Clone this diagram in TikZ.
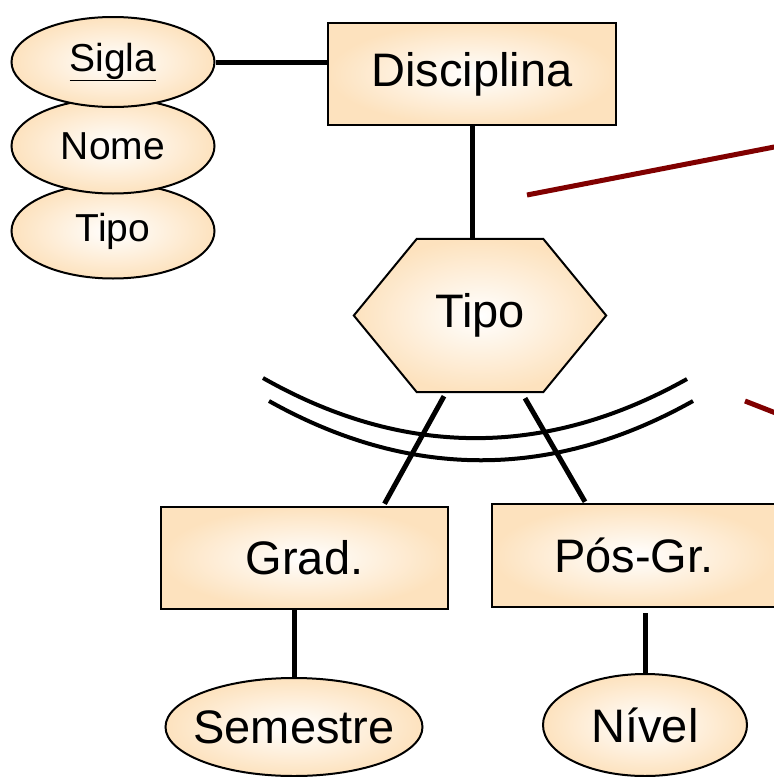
\documentclass[tikz,border=0pt]{standalone}
\usepackage{fontspec}
\setmainfont{Liberation Sans}
\usetikzlibrary{shapes.geometric, positioning}
\usetikzlibrary{calc,backgrounds}
\definecolor{peach}{RGB}{253,226,190}
\definecolor{darkred}{RGB}{128,0,0}

\begin{document}
\begin{tikzpicture}
[   x=1pt,y=-1pt,
    enode/.style={draw=black,line width=2.5pt,shade,inner color=white,outer color=peach,minimum width=#1,minimum height=102pt,inner sep=0pt,font=\fontsize{47}{56}\selectfont},
    anode/.style={draw=black,line width=2pt,ellipse,shade,inner color=white,outer color=peach,minimum width=#1,inner sep=0pt,font=\fontsize{47}{56}\selectfont},
]
\tikzset{link/.style={draw,line width=5pt},
         arcline/.style={draw,line width=4pt},
         redline/.style={draw=darkred,line width=5pt}}
\path[use as bounding box,clip] (0,0) rectangle (774,777);

\node[enode=288pt] (disc) at (472,74) {Disciplina};
\foreach \name/\txt/\y/\h in {tipoa/Tipo/231/95, nome/Nome/146/95, sigla/\underline{Sigla}/62/90}
{
	\node[anode=203pt,minimum height=\h pt,font=\fontsize{39}{47}\selectfont] (\name) at (113,\y) {\txt};
}
\node[minimum width=252pt,minimum height=153pt,inner sep=0pt,font=\fontsize{47}{56}\selectfont] (tipo) at (480,315.5) {Tipo};
\begin{pgfonlayer}{background}
\path[draw=black,line width=2pt,shade,inner color=white,outer color=peach]
	(tipo.west) -- ($(tipo.north west)+(63,0)$) -- ($(tipo.north east)+(-63,0)$)
	-- (tipo.east) -- ($(tipo.south east)+(-63,0)$) -- ($(tipo.south west)+(63,0)$) -- cycle;
\end{pgfonlayer}
\node[enode=287pt] (grad) at (304.5,558) {Grad.};
\node[enode=284pt,minimum height=103pt] (pos) at (634,555.5) {Pós-Gr.};
\node[anode=257pt,minimum height=98pt,inner xsep=-10pt] (sem) at (294,727) {Semestre};
\node[anode=204pt,minimum height=102pt] (nivel) at (645,725) {Nível};

\path[link] (sigla.east) -- (sigla.east -| disc.west);
\path[link] (disc.south) -- (disc.south |- tipo.north);
\path[link] ($(tipo.south)+(-36,4)$) -- ($(grad.north)+(80,-2)$);
\path[link] ($(tipo.south)+(45,6)$) -- ($(pos.north)+(-49,-1)$);
\path[link] (grad.south -| sem.north) -- (sem.north);
\path[link] ($(nivel.north |- pos.south)+(0,5)$) -- (nivel.north);

%\draw (tipo) -- (grad);
\path[arcline] (263,378) .. controls (404,458) and (546,458) .. (687,379);
\path[arcline] (269,401) .. controls (410,480) and (552,480) .. (693,401);

\coordinate (r1a) at (527,195);
\coordinate (r1b) at (800,142);
\coordinate (r2a) at (745,401);
\coordinate (r2b) at (800,422.5);
\path[redline] (r1a) -- (r1b);
\path[redline] (r2a) -- (r2b);
\end{tikzpicture}
\end{document}
